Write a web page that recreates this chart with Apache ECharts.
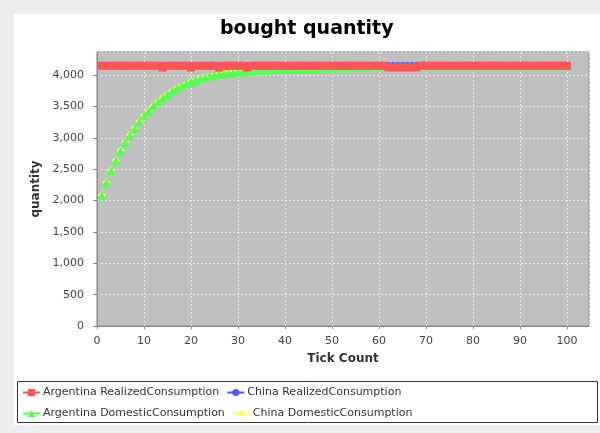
<!DOCTYPE html>
<html>
<head>
<meta charset="utf-8">
<script src="https://cdn.jsdelivr.net/npm/echarts@6/dist/echarts.min.js"></script>
<style>
html,body{margin:0;padding:0;background:#eeeeee;}
#chart{width:600px;height:433px;}
</style>
</head>
<body>
<div id="chart"></div>
<script>
// ---- data ----
var titleText = "bought quantity";
var xAxisName = "Tick Count";
var yAxisName = "quantity";
var seriesNames = ["Argentina RealizedConsumption", "China RealizedConsumption", "Argentina DomesticConsumption", "China DomesticConsumption"];

// Tick counts 1..100 (shared by all series)
var ticks = [1,2,3,4,5,6,7,8,9,10,11,12,13,14,15,16,17,18,19,20,21,22,23,24,25,26,27,28,29,30,31,32,33,34,35,36,37,38,39,40,41,42,43,44,45,46,47,48,49,50,51,52,53,54,55,56,57,58,59,60,61,62,63,64,65,66,67,68,69,70,71,72,73,74,75,76,77,78,79,80,81,82,83,84,85,86,87,88,89,90,91,92,93,94,95,96,97,98,99,100];
var argentinaRealized = [4151,4151,4151,4151,4151,4151,4151,4151,4151,4151,4151,4151,4151,4122,4151,4151,4151,4151,4151,4122,4151,4151,4151,4151,4151,4122,4151,4151,4151,4151,4151,4122,4151,4151,4151,4151,4151,4151,4151,4151,4151,4151,4151,4151,4151,4151,4151,4151,4151,4151,4151,4151,4151,4151,4151,4151,4151,4151,4151,4151,4151,4125,4125,4125,4125,4125,4125,4125,4151,4151,4151,4151,4151,4151,4151,4151,4151,4151,4151,4151,4151,4151,4151,4151,4151,4151,4151,4151,4151,4151,4151,4151,4151,4151,4151,4151,4151,4151,4151,4151];
var chinaRealized = [4151,4151,4151,4151,4151,4151,4151,4151,4151,4151,4151,4151,4151,4151,4151,4151,4151,4151,4151,4151,4151,4151,4151,4151,4151,4151,4151,4151,4151,4151,4151,4151,4151,4151,4151,4151,4151,4151,4151,4151,4151,4151,4151,4151,4151,4151,4151,4151,4151,4151,4151,4151,4151,4151,4151,4151,4151,4151,4151,4151,4151,4153,4153,4153,4153,4153,4153,4153,4151,4151,4151,4151,4151,4151,4151,4151,4151,4151,4151,4151,4151,4151,4151,4151,4151,4151,4151,4151,4151,4151,4151,4151,4151,4151,4151,4151,4151,4151,4151,4151];
var argentinaDomestic = [2077,2284,2475,2630,2789,2927,3044,3150,3256,3352,3426,3511,3575,3639,3692,3745,3790,3830,3866,3896,3922,3945,3965,3983,3998,4011,4023,4033,4042,4050,4057,4063,4068,4073,4078,4082,4086,4089,4092,4095,4098,4100,4102,4104,4106,4108,4110,4112,4114,4116,4117,4118,4119,4120,4121,4122,4124,4140,4145,4148,4150,4150,4150,4150,4150,4150,4150,4150,4150,4150,4150,4150,4150,4150,4150,4150,4150,4150,4150,4150,4150,4150,4150,4150,4150,4150,4150,4150,4150,4150,4150,4150,4150,4150,4150,4150,4150,4150,4150,4150];
var chinaDomestic = [2087,2294,2484,2640,2798,2936,3052,3158,3263,3359,3433,3517,3581,3644,3697,3749,3794,3833,3869,3899,3924,3947,3967,3985,4000,4013,4024,4034,4043,4051,4058,4064,4069,4074,4078,4082,4086,4089,4092,4095,4098,4100,4102,4104,4106,4108,4110,4112,4114,4116,4117,4118,4119,4120,4121,4122,4124,4126,4128,4130,4145,4150,4150,4150,4150,4150,4150,4150,4150,4150,4150,4150,4150,4150,4150,4150,4150,4150,4150,4150,4150,4150,4150,4150,4150,4150,4150,4150,4150,4150,4150,4150,4150,4150,4150,4150,4150,4150,4150,4150];

var xTickLabels = ["0","10","20","30","40","50","60","70","80","90","100"];
var yTickLabels = ["0","500","1,000","1,500","2,000","2,500","3,000","3,500","4,000"];

function pairs(xs, ys){ return xs.map(function(x,i){ return [x, ys[i]]; }); }

var FONT = "DejaVu Sans";
var chart = echarts.init(document.getElementById('chart'), null, {renderer:'canvas'});

var legendCommon = {
  left: 22, padding: 0,
  itemWidth: 17, itemHeight: 9, itemGap: 7,
  textStyle: {fontFamily: FONT, fontSize: 11, color: '#333333', padding: [0,0,0,-2]}
};

var option = {
  animation: false,
  backgroundColor: '#eeeeee',
  textStyle: {fontFamily: FONT},
  graphic: [
    {type:'rect', z:-10, shape:{x:14, y:14, width:586, height:411}, style:{fill:'#ffffff'}},
    {type:'rect', z:10, shape:{x:17.5, y:381.5, width:580, height:41}, style:{fill:'none', stroke:'#333333', lineWidth:1}}
  ],
  title: {
    text: titleText,
    left: 220, top: 20, padding: 0,
    textStyle: {fontFamily: FONT, fontSize: 19, fontWeight: 'bold', color: '#000000'}
  },
  legend: [
    Object.assign({}, legendCommon, {top: 387, data: [seriesNames[0], seriesNames[1]]}),
    Object.assign({}, legendCommon, {top: 408, data: [seriesNames[2], seriesNames[3]]})
  ],
  grid: {
    left: 97, right: 11, top: 52, bottom: 107,
    show: true, backgroundColor: '#c0c0c0', borderColor: '#888888', borderWidth: 1
  },
  xAxis: {
    type: 'value', min: 0, max: 104.7, interval: 10,
    offset: 5,
    name: xAxisName, nameLocation: 'middle', nameGap: 22,
    nameTextStyle: {fontFamily: FONT, fontSize: 12, fontWeight: 'bold', color: '#333333'},
    axisLine: {show: true, lineStyle: {color: '#888888', width: 1}},
    axisTick: {show: true, length: 3, lineStyle: {color: '#888888'}},
    axisLabel: {
      fontFamily: FONT, fontSize: 11, color: '#444444', margin: 5,
      showMaxLabel: false,
      formatter: function(v){ var i = Math.round(v/10); return (Math.abs(v - i*10) < 1e-6 && xTickLabels[i] !== undefined) ? xTickLabels[i] : ''; }
    },
    splitLine: {show: true, lineStyle: {color: '#ffffff', type: [2,2], width: 0.6}}
  },
  yAxis: {
    type: 'value', min: 0, max: 4370, interval: 500,
    offset: 4,
    name: yAxisName, nameLocation: 'middle', nameGap: 46,
    nameTextStyle: {fontFamily: FONT, fontSize: 12, fontWeight: 'bold', color: '#333333'},
    axisLine: {show: true, lineStyle: {color: '#888888', width: 1}},
    axisTick: {show: true, length: 4, lineStyle: {color: '#888888'}},
    axisLabel: {
      fontFamily: FONT, fontSize: 11, color: '#444444', margin: 9,
      showMaxLabel: false,
      formatter: function(v){ var i = Math.round(v/500); return (Math.abs(v - i*500) < 1e-6 && yTickLabels[i] !== undefined) ? yTickLabels[i] : ''; }
    },
    splitLine: {show: true, lineStyle: {color: '#ffffff', type: [2,2], width: 0.6}}
  },
  series: [
    {
      name: seriesNames[0], type: 'line', z: 8,
      data: pairs(ticks, argentinaRealized),
      symbol: 'rect', symbolSize: 8, showAllSymbol: true,
      itemStyle: {color: '#ff5555'}, lineStyle: {color: '#ff5555', width: 1}
    },
    {
      name: seriesNames[1], type: 'line', z: 6,
      data: pairs(ticks, chinaRealized),
      symbol: 'circle', symbolSize: 7, showAllSymbol: true,
      itemStyle: {color: '#5555ff'}, lineStyle: {color: '#5555ff', width: 1}
    },
    {
      name: seriesNames[2], type: 'line', z: 4,
      data: pairs(ticks, argentinaDomestic),
      symbol: 'triangle', symbolSize: 9, showAllSymbol: true,
      itemStyle: {color: '#55ff55'}, lineStyle: {color: '#55ff55', width: 1}
    },
    {
      name: seriesNames[3], type: 'line', z: 2,
      data: pairs(ticks, chinaDomestic),
      symbol: 'diamond', symbolSize: 8, showAllSymbol: true,
      itemStyle: {color: '#ffff55'}, lineStyle: {color: '#ffff55', width: 1}
    }
  ]
};
chart.setOption(option);
</script>
</body>
</html>
